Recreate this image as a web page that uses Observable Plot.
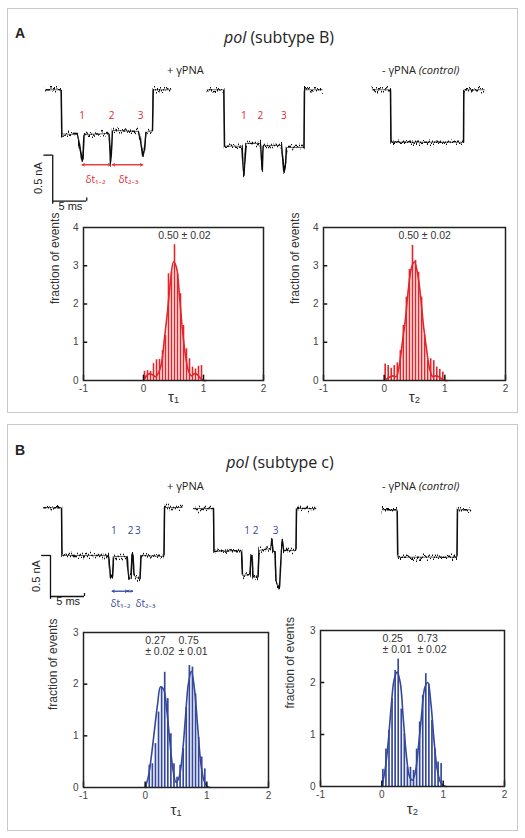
<!DOCTYPE html>
<html><head><meta charset="utf-8">
<script src="https://cdn.jsdelivr.net/npm/d3@7"></script>
<script src="https://cdn.jsdelivr.net/npm/@observablehq/plot@0.6"></script>
<style>
body{margin:0;background:#fff;}
#fig{position:relative;width:525px;height:838px;overflow:hidden;background:#fff;}
#fig svg{position:absolute;}
.panel{position:absolute;border:1px solid #c9c9c9;box-sizing:border-box;}
</style></head><body><div id="fig"></div>
<script>
// ---------------- DATA ----------------
// Histogram bins (fraction τ)
const binCenters = [0.025,0.075,0.125,0.175,0.225,0.275,0.325,0.375,0.425,0.475,0.525,0.575,0.625,0.675,0.725,0.775,0.825,0.875,0.925,0.975];
const histA_tau1 = [0.24,0.26,0.24,0.44,0.54,0.55,0.78,1.18,2.79,2.83,3.55,2.79,2.27,1.44,0.83,0.57,0.35,0.30,0.37,0.39];
const histA_tau2 = [0.43,0.39,0.32,0.39,0.46,0.78,1.44,2.18,2.90,3.53,3.14,2.83,2.18,1.18,0.52,0.57,0.52,0.35,0.29,0.22];
const histB_tau1 = [0.07,0.43,0.46,0.85,1.46,1.94,2.23,1.72,1.04,0.46,0.20,0.43,0.75,1.55,2.36,2.33,1.81,0.97,0.59,0.36];
const histB_tau2 = [0.33,0.72,1.08,1.69,2.23,2.45,1.49,1.01,0.37,0.37,0.31,0.72,1.24,1.75,2.17,1.97,1.27,0.72,0.47,0.44];
// Gaussian fit curves
const fitX = [0,0.05,0.1,0.15,0.2,0.25,0.3,0.35,0.4,0.45,0.5,0.55,0.6,0.65,0.7,0.75,0.8,0.85,0.9,0.95,1.0,1.05];
const fitA_tau1 = [0,0.12,0.18,0.15,0.10,0.20,0.45,1.10,1.80,2.60,3.10,2.95,2.20,1.30,0.65,0.25,0.12,0.18,0.15,0.06,0,0];
const fitA_tau2 = [0,0.05,0.10,0.12,0.10,0.40,1.00,1.60,2.40,2.95,3.10,2.80,2.20,1.40,0.80,0.30,0.10,0.12,0.10,0.04,0,0];
const fitB_tau1 = [0,0.20,0.60,1.10,1.60,1.95,1.90,1.50,0.90,0.35,0.10,0.20,0.60,1.30,2.00,2.25,1.90,1.20,0.50,0.15,0.03,0];
const fitB_tau2 = [0,0.30,0.80,1.50,2.05,2.20,2.00,1.30,0.60,0.20,0.12,0.30,0.80,1.40,1.90,2.00,1.60,0.90,0.35,0.10,0.02,0];
const xTicks = [-1,0,1,2];
// Current traces: time (ms), current change (nA)
const tA1 = [0.74,3.04,3.13,5.44,5.74,6.10,6.25,6.40,10.07,10.22,10.29,10.44,10.59,14.41,14.71,15.07,15.29,15.51,16.47,16.57,19.12];
const iA1 = [0,0,-0.48,-0.486,-0.605,-0.779,-0.747,-0.486,-0.475,-0.66,-0.796,-0.66,-0.442,-0.453,-0.551,-0.73,-0.66,-0.464,-0.442,0,0];
const tA2 = [24.51,26.96,27.06,29.63,29.78,29.90,30.07,30.22,32.35,32.50,32.60,32.75,35.44,35.66,35.81,36.03,36.18,38.75,38.82,41.43];
const iA2 = [0,0,-0.613,-0.613,-0.823,-0.932,-0.768,-0.584,-0.584,-0.768,-0.877,-0.605,-0.605,-0.768,-0.896,-0.823,-0.627,-0.627,0,0];
const tA3 = [48.78,51.47,51.54,62.21,62.25,65.19];
const iA3 = [0,0,-0.57,-0.57,0,0];
const tB1 = [0.49,3.09,3.16,10.0,10.15,10.29,10.59,10.74,12.72,12.87,13.01,13.31,13.46,13.60,13.75,14.63,14.78,18.16,18.24,20.84];
const iB1 = [0.01,0.01,-0.573,-0.573,-0.695,-0.817,-0.854,-0.585,-0.585,-0.756,-0.841,-0.854,-0.549,-0.549,-0.817,-0.866,-0.573,-0.585,0.012,0.012];
const tB2 = [22.54,25.44,25.51,29.56,29.71,30.81,30.96,31.10,31.25,31.99,32.13,33.90,34.04,34.19,34.49,34.63,35.15,35.29,35.44,35.59,35.74,37.57,37.65,40.44];
const iB2 = [0,0,-0.524,-0.512,-0.817,-0.805,-0.573,-0.573,-0.829,-0.841,-0.512,-0.488,-0.366,-0.512,-0.537,-0.878,-0.976,-0.732,-0.488,-0.39,-0.512,-0.512,0,0];
const tB3 = [50.25,52.46,52.53,61.25,61.32,63.24];
const iB3 = [-0.016,-0.016,-0.594,-0.594,-0.016,-0.016];
// Event labels and inter-event intervals
const eventNames = ["1","2","3","1","2","3"];
const eventTA = [6.13,10.44,14.71,29.9,32.35,35.78];
const eventTB = [10.78,13.24,14.31,30.4,31.62,34.56];
const dtNames = ["δt₁₋₂","δt₂₋₃"];
const dtA = [[6.13,10.29],[10.6,15.0]];
const dtB = [[10.54,12.79],[12.79,13.53]];
const scaleMs = 5, scaleNA = 0.5;

// ---------------- LAYOUT ----------------
const RED = "#e3262b", BLUE = "#34489c";
const fig = document.getElementById("fig");
const SANS = "'Liberation Sans', Arial, sans-serif";
const OPEN = "'Open Sans', 'Noto Sans', sans-serif";

function box(l,t,w,h){const d=document.createElement("div");d.className="panel";
  Object.assign(d.style,{left:l+"px",top:t+"px",width:w+"px",height:h+"px"});fig.appendChild(d);}
box(7,8,511,405);
box(7,424,511,407);

// text overlay
const ov = d3.select(fig).append("svg").attr("width",525).attr("height",838).style("left","0px").style("top","0px");
function txt(x,y,parts,size,anchor,fam){
  const t = ov.append("text").attr("x",x).attr("y",y).attr("font-size",size)
    .attr("font-family",fam||OPEN).attr("text-anchor",anchor||"start").attr("fill","#222");
  parts.forEach(p=>{const s=t.append("tspan").text(p.t); if(p.i) s.attr("font-style","italic"); if(p.b) s.attr("font-weight","bold");});
}
txt(15,38,[{t:"A",b:1}],14,"start",SANS);
txt(279,43,[{t:"pol",i:1},{t:" (subtype B)"}],16,"middle");
txt(167,74,[{t:"+ γPNA"}],11);
txt(382,74,[{t:"- γPNA "},{t:"(control)",i:1}],11);
txt(15,455,[{t:"B",b:1}],14,"start",SANS);
txt(280,468,[{t:"pol",i:1},{t:" (subtype c)"}],16,"middle");
txt(167,490,[{t:"+ γPNA"}],11);
txt(382,490,[{t:"- γPNA "},{t:"(control)",i:1}],11);

function place(svg,l,t){svg.style.left=l+"px";svg.style.top=t+"px";fig.appendChild(svg);return svg;}

function rowsOf(ts,is,k){return ts.map((t,j)=>({t, I:is[j], trace:k}));}

function noise(svg,id){
  const ns="http://www.w3.org/2000/svg";
  const defs=document.createElementNS(ns,"defs");
  defs.innerHTML=`<filter id="${id}" filterUnits="userSpaceOnUse" x="0" y="0" width="525" height="200"><feTurbulence type="fractalNoise" baseFrequency="1.1 0.05" numOctaves="2" seed="4" result="n"/><feColorMatrix in="n" type="matrix" values="0 0 0 0 0.5  0 1 0 0 0  0 0 0 0 0  0 0 0 0 1" result="m"/><feDisplacementMap in="SourceGraphic" in2="m" scale="12" xChannelSelector="R" yChannelSelector="G"/></filter>`;
  svg.prepend(defs);
  const groups = svg.querySelectorAll('g[aria-label="line"]');
  groups[groups.length-1].querySelectorAll('path').forEach(p=>p.setAttribute("filter",`url(#${id})`));
}

function tracePlot({rows,top,height,yDomain,color,evT,evY,dt,dtY,dtLabY,dtLabT,sb,id}){
  const t0=sb.t, I0=sb.I;
  const dtRows = dt.map(d=>({a:d[0],b:d[1]}));
  const p = Plot.plot({
    width:525,height,margin:0,
    style:{background:"transparent",fontFamily:OPEN,overflow:"visible"},
    x:{domain:[-40/6.8,485/6.8],axis:null},
    y:{domain:yDomain,axis:null},
    marks:[
      Plot.line(rows,{x:"t",y:"I",z:"trace",stroke:"#555",strokeWidth:0.9}),
      Plot.line(rows,{x:"t",y:"I",z:"trace",stroke:"#111",strokeWidth:1.5}),
      Plot.text(eventNames,{x:(d,i)=>evT[i],y:()=>evY,text:d=>d,fill:color,fontSize:10}),
      Plot.arrow(dtRows,{x1:"a",x2:"b",y1:()=>dtY,y2:()=>dtY,stroke:color,strokeWidth:0.9,headLength:4,bend:0}),
      Plot.arrow(dtRows,{x1:"b",x2:"a",y1:()=>dtY,y2:()=>dtY,stroke:color,strokeWidth:0.9,headLength:4,bend:0}),
      Plot.text(dtNames,{x:(d,i)=>dtLabT[i],y:()=>dtLabY,text:d=>d,fill:color,fontSize:10}),
      // scale bar
      Plot.ruleX([t0],{y1:I0-0.035,y2:I0+scaleNA,stroke:"#111",strokeWidth:1.3}),
      Plot.ruleY([I0],{x1:t0,x2:t0+scaleMs,stroke:"#111",strokeWidth:1.3}),
      Plot.ruleY([I0+scaleNA],{x1:t0-1.3,x2:t0,stroke:"#111",strokeWidth:1.3}),
      Plot.ruleX([t0+scaleMs],{y1:I0,y2:I0+0.035,stroke:"#111",strokeWidth:1.3}),
      Plot.text([scaleNA+" nA"],{x:()=>t0-2.1,y:()=>I0+scaleNA/2,rotate:-90,fontSize:11,fill:"#222",fontFamily:SANS}),
      Plot.text([scaleMs+" ms"],{x:()=>t0+scaleMs/2+0.1,y:()=>I0-0.055,lineAnchor:"middle",fontSize:11,fill:"#222",fontFamily:SANS})
    ]
  });
  noise(p,id);
  return place(p,0,top);
}

tracePlot({rows:[...rowsOf(tA1,iA1,1),...rowsOf(tA2,iA2,2),...rowsOf(tA3,iA3,3)],
  top:80,height:135,yDomain:[-1.366,0.101],color:RED,evT:eventTA,evY:-0.285,
  dt:dtA,dtY:-0.815,dtLabY:-0.975,dtLabT:[8.09,12.94],sb:{t:1.8,I:-1.21},id:"nzA"});
tracePlot({rows:[...rowsOf(tB1,iB1,1),...rowsOf(tB2,iB2,2),...rowsOf(tB3,iB3,3)],
  top:490,height:130,yDomain:[-1.366,0.2195],color:BLUE,evT:eventTB,evY:-0.268,
  dt:dtB,dtY:-1.009,dtLabY:-1.159,dtLabT:[11.76,15.44],sb:{t:1.47,I:-1.073},id:"nzB"});

function hist({left,top,width,height,mL,mR,mT,mB,counts,fit,color,yMax,xlabel,ann,xlabDy,ylabDx}){
  const rows = binCenters.map((c,i)=>({x1:c-0.025,x2:c+0.025,y:counts[i]}));
  const fitRows = fitX.map((x,i)=>({x,y:fit[i]}));
  const yT = d3.range(0,yMax+1);
  const p = Plot.plot({
    width,height,marginLeft:mL,marginRight:mR,marginTop:mT,marginBottom:mB,
    style:{background:"transparent",fontFamily:SANS,fontSize:"10px",color:"#444",overflow:"visible"},
    x:{domain:[-1,2]},
    y:{domain:[0,yMax]},
    marks:[
      Plot.rectY(rows,{x1:"x1",x2:"x2",y:"y",fill:color,insetLeft:0.7,insetRight:0.7}),
      Plot.line(fitRows,{x:"x",y:"y",stroke:color,strokeWidth:1.6,curve:"catmull-rom"}),
      Plot.ruleX(xTicks,{y1:0,y2:yMax*0.035,stroke:"#111",strokeWidth:1.5}),
      Plot.ruleY(yT.slice(1,-1),{x1:-1,x2:-0.93,stroke:"#111",strokeWidth:1.5}),
      Plot.axisX({ticks:xTicks,tickSize:0,tickPadding:4,label:null,tickFormat:d=>String(d)}),
      Plot.axisY({ticks:yT,tickSize:0,tickPadding:5,label:null,tickFormat:d=>String(d)}),
      Plot.frame({stroke:"#222",strokeWidth:1.5}),
      Plot.text(["fraction of events"],{frameAnchor:"left",rotate:-90,dx:ylabDx,fontSize:12,fill:"#333"}),
      Plot.text([xlabel],{frameAnchor:"bottom",lineAnchor:"middle",dy:xlabDy,fontSize:15,fill:"#333"}),
      Plot.text(ann,{x:"x",text:"t",frameAnchor:"top",lineAnchor:"top",dy:4,textAnchor:"start",fontSize:10.5,lineHeight:1.05,fill:"#333"})
    ]
  });
  return place(p,left,top);
}

hist({left:30,top:215,width:245,height:200,mL:53,mR:12,mT:12,mB:35,counts:histA_tau1,fit:fitA_tau1,color:RED,yMax:4,
  xlabel:"τ₁",xlabDy:17,ylabDx:-28,ann:[{x:0.245,t:"0.50 ± 0.02"}]});
hist({left:270,top:215,width:245,height:200,mL:53,mR:10,mT:12,mB:35,counts:histA_tau2,fit:fitA_tau2,color:RED,yMax:4,
  xlabel:"τ₂",xlabDy:17,ylabDx:-28,ann:[{x:0.235,t:"0.50 ± 0.02"}]});
hist({left:30,top:620,width:250,height:210,mL:53,mR:12,mT:12,mB:43,counts:histB_tau1,fit:fitB_tau1,color:BLUE,yMax:3,
  xlabel:"τ₁",xlabDy:23,ylabDx:-30,ann:[{x:0.0,t:"0.27\n± 0.02"},{x:0.54,t:"0.75\n± 0.01"}]});
hist({left:270,top:620,width:245,height:210,mL:50,mR:11,mT:10,mB:44,counts:histB_tau2,fit:fitB_tau2,color:BLUE,yMax:3,
  xlabel:"τ₂",xlabDy:23,ylabDx:-30,ann:[{x:0.01,t:"0.25\n± 0.01"},{x:0.58,t:"0.73\n± 0.02"}]});
</script></body></html>
